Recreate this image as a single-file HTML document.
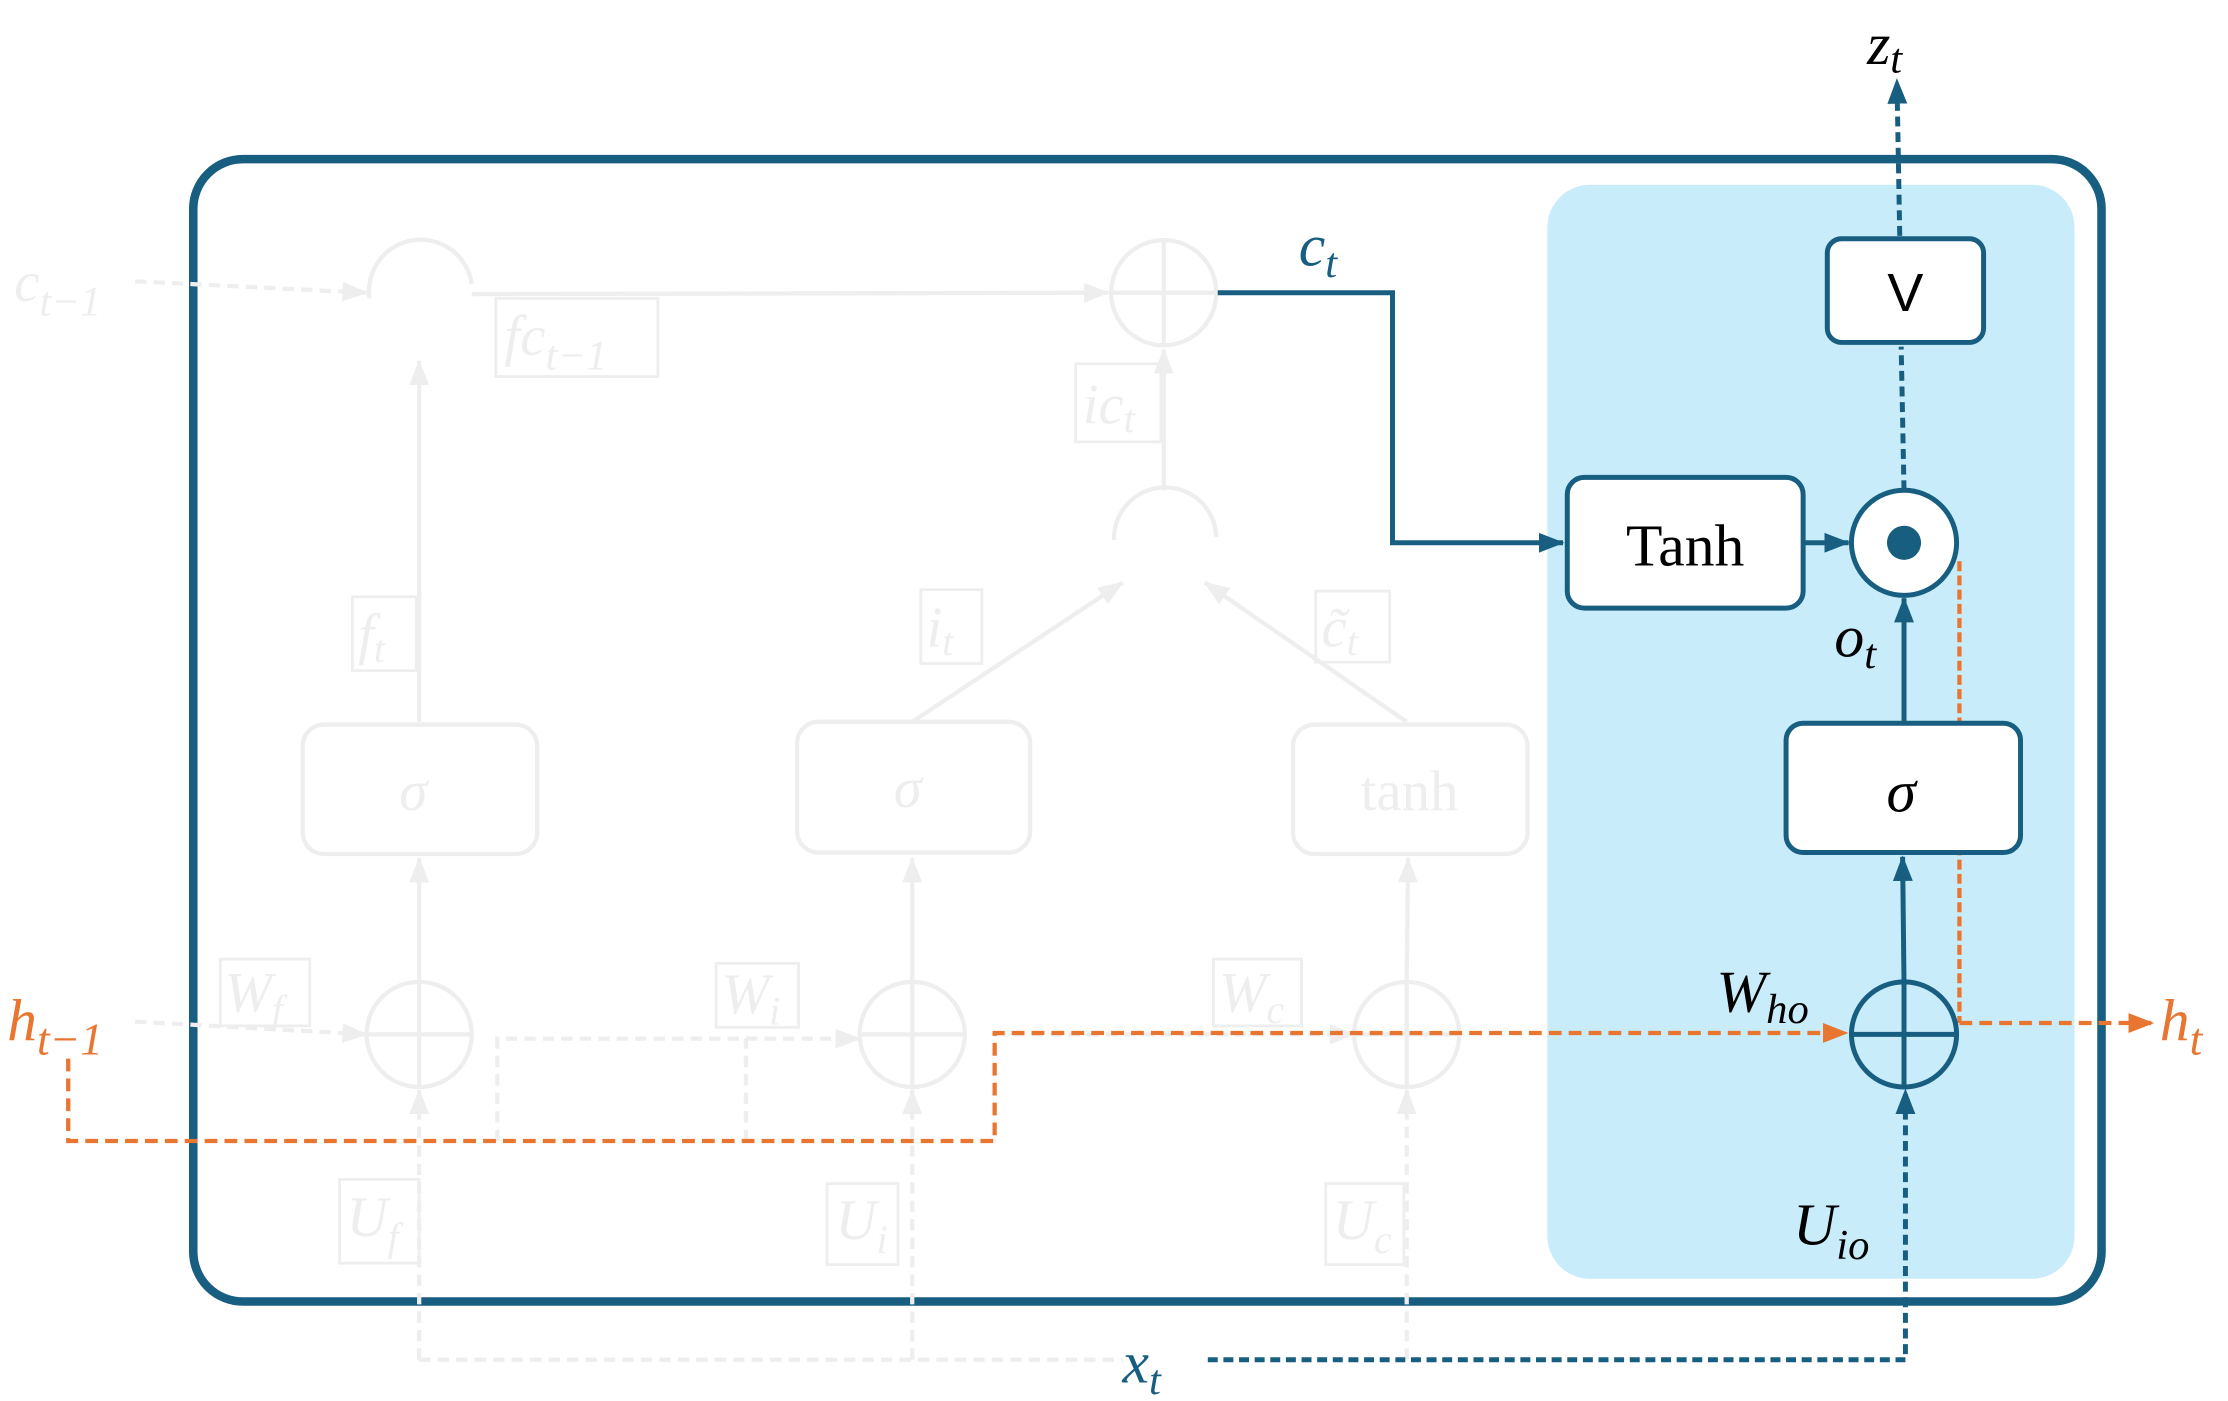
<!DOCTYPE html>
<html><head><style>html,body{margin:0;padding:0;background:#fff}svg{display:block}</style></head><body>
<svg width="2228" height="1401" viewBox="0 0 1568 986" xmlns="http://www.w3.org/2000/svg" font-family="'Liberation Serif', serif">
<defs>
<marker id="abl" markerWidth="18" markerHeight="14" refX="17" refY="7" orient="auto" markerUnits="userSpaceOnUse"><path d="M0,0 L18,7 L0,14 z" fill="#175e80"/></marker>
<marker id="ao" markerWidth="18" markerHeight="14" refX="17" refY="7" orient="auto" markerUnits="userSpaceOnUse"><path d="M0,0 L18,7 L0,14 z" fill="#e87530"/></marker>
<marker id="ag" markerWidth="18" markerHeight="14" refX="17" refY="7" orient="auto" markerUnits="userSpaceOnUse"><path d="M0,0 L18,7 L0,14 z" fill="#eeeeee"/></marker>
</defs>
<rect x="136" y="112" width="1343" height="804" rx="35" fill="none" stroke="#175e80" stroke-width="6"/>
<rect x="1089" y="130" width="371" height="770" rx="30" fill="#c9ecfa"/>

<g stroke="#eeeeee" fill="none" stroke-width="3">
<path d="M260,210 A36,36 0 0 1 332,200"/>
<circle cx="819" cy="206" r="37"/><path d="M782,206 H856 M819,169 V243"/>
<path d="M784,380 A36,36 0 0 1 856,378"/>
<line x1="332" y1="207" x2="780" y2="206" marker-end="url(#ag)"/>
<line x1="295" y1="508" x2="295" y2="254" marker-end="url(#ag)"/>
<line x1="819" y1="345" x2="819" y2="246" marker-end="url(#ag)"/>
<line x1="642" y1="508" x2="790" y2="410" marker-end="url(#ag)"/>
<line x1="990" y1="508" x2="848" y2="410" marker-end="url(#ag)"/>
<rect x="213" y="510" width="165" height="91" rx="15"/>
<rect x="561" y="508" width="164" height="92" rx="15"/>
<rect x="910" y="510" width="165" height="91" rx="15"/>
<circle cx="295" cy="728" r="37"/><path d="M258,728 H332 M295,691 V765"/>
<circle cx="642" cy="728" r="37"/><path d="M605,728 H679 M642,691 V765"/>
<circle cx="990" cy="728" r="37"/><path d="M953,728 H1027 M990,691 V765"/>
<line x1="295" y1="690" x2="295" y2="604" marker-end="url(#ag)"/>
<line x1="642" y1="690" x2="642" y2="604" marker-end="url(#ag)"/>
<line x1="990" y1="690" x2="991" y2="604" marker-end="url(#ag)"/>
<g stroke-dasharray="8,5">
<line x1="95" y1="198" x2="258" y2="206" marker-end="url(#ag)"/>
<line x1="95" y1="719" x2="258" y2="728" marker-end="url(#ag)"/>
<path d="M350,803 V731 H605" marker-end="url(#ag)"/>
<path d="M525,803 V731"/>
<path d="M700,728 H953" marker-end="url(#ag)"/>
<path d="M295,957 V767" marker-end="url(#ag)"/>
<path d="M642,957 V767" marker-end="url(#ag)"/>
<path d="M990,957 V767" marker-end="url(#ag)"/>
<path d="M295,957 H790"/>
</g>
<g stroke-width="2">
<rect x="349" y="210" width="114" height="55"/>
<rect x="757" y="256" width="60" height="55"/>
<rect x="248" y="420" width="45" height="52"/>
<rect x="648" y="415" width="43" height="52"/>
<rect x="926" y="416" width="52" height="50"/>
<rect x="155" y="675" width="63" height="47"/>
<rect x="504" y="678" width="58" height="45"/>
<rect x="854" y="675" width="62" height="47"/>
<rect x="239" y="830" width="56" height="59"/>
<rect x="582" y="833" width="50" height="57"/>
<rect x="933" y="833" width="55" height="57"/>
</g>
</g>
<g fill="#eeeeee" font-style="italic" font-size="40">
<text x="10" y="212">c<tspan font-size="30" dy="10">t−1</tspan></text>
<text x="355" y="250">fc<tspan font-size="30" dy="10">t−1</tspan></text>
<text x="762" y="298">ic<tspan font-size="28" dy="6">t</tspan></text>
<text x="252" y="460">f<tspan font-size="28" dy="6">t</tspan></text>
<text x="652" y="455">i<tspan font-size="28" dy="6">t</tspan></text>
<text x="930" y="455">c̃<tspan font-size="28" dy="6">t</tspan></text>
<text x="281" y="570">σ</text>
<text x="629" y="568">σ</text>
<text x="992" y="570" font-style="normal" text-anchor="middle">tanh</text>
<text x="158" y="712">W<tspan font-size="28" dy="8">f</tspan></text>
<text x="508" y="713">W<tspan font-size="28" dy="8">i</tspan></text>
<text x="858" y="712">W<tspan font-size="28" dy="8">c</tspan></text>
<text x="244" y="870">U<tspan font-size="28" dy="10">f</tspan></text>
<text x="588" y="872">U<tspan font-size="28" dy="10">i</tspan></text>
<text x="938" y="872">U<tspan font-size="28" dy="10">c</tspan></text>
</g>

<g stroke="#e87530" stroke-width="3" fill="none" stroke-dasharray="9,5">
<path d="M48,745 V803 H700 V727 H1300" marker-end="url(#ao)"/>
<path d="M1379,395 V720" stroke-dasharray="7,3"/>
<line x1="1379" y1="720" x2="1515" y2="720" marker-end="url(#ao)"/>
</g>

<g stroke="#175e80" stroke-width="3.5" fill="none">
<path d="M857,206 H980 V382 H1100" marker-end="url(#abl)"/>
<line x1="1270" y1="382" x2="1301" y2="382" marker-end="url(#abl)"/>
<line x1="1340" y1="508" x2="1340" y2="421" marker-end="url(#abl)"/>
<line x1="1340" y1="692" x2="1339" y2="603" marker-end="url(#abl)"/>
<g stroke-dasharray="7,4">
<line x1="1340" y1="345" x2="1338" y2="244"/>
<line x1="1337" y1="166" x2="1335" y2="56" marker-end="url(#abl)"/>
<path d="M850,957 H1341 V767" marker-end="url(#abl)"/>
</g>
<rect x="1286" y="168" width="110" height="73" rx="10" fill="#fff"/>
<rect x="1103" y="336" width="166" height="92" rx="12" fill="#fff"/>
<rect x="1257" y="509" width="165" height="91" rx="12" fill="#fff"/>
<circle cx="1340" cy="382" r="37" fill="#fff"/>
<circle cx="1340" cy="728" r="37" fill="none"/>
<path d="M1303,728 H1377 M1340,691 V765"/>
</g>
<circle cx="1340" cy="382" r="12" fill="#175e80"/>

<g font-size="42" fill="#000">
<text x="1186" y="398" text-anchor="middle">Tanh</text>
<text x="1341" y="219" text-anchor="middle" font-family="'Liberation Sans', sans-serif" font-size="38">V</text>
<text x="1338" y="571" text-anchor="middle" font-style="italic" font-size="42">σ</text>
</g>
<g font-style="italic" font-size="42">
<text x="1314" y="45" fill="#000">z<tspan font-size="30" dy="6">t</tspan></text>
<text x="1291" y="462" fill="#000">o<tspan font-size="30" dy="8">t</tspan></text>
<text x="1208" y="712" fill="#000">W<tspan font-size="30" dy="8">ho</tspan></text>
<text x="1262" y="876" fill="#000">U<tspan font-size="30" dy="10">io</tspan></text>
<text x="914" y="187" fill="#175e80">c<tspan font-size="30" dy="8">t</tspan></text>
<text x="790" y="973" fill="#175e80">x<tspan font-size="30" dy="8">t</tspan></text>
<text x="5" y="732" fill="#e87530">h<tspan font-size="32" dy="10">t−1</tspan></text>
<text x="1520" y="732" fill="#e87530">h<tspan font-size="32" dy="10">t</tspan></text>
</g>
</svg>
</body></html>
